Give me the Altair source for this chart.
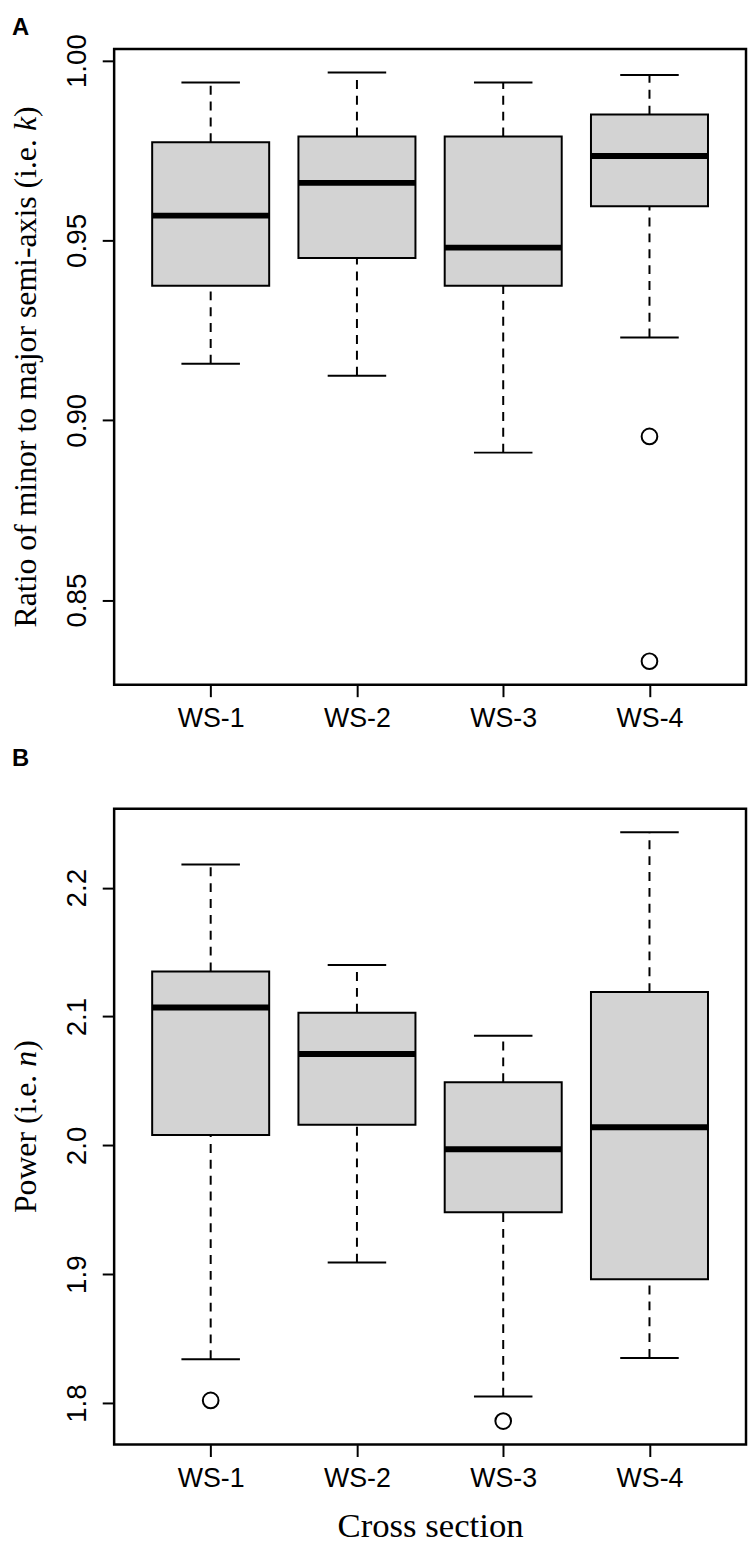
import altair as alt
import pandas as pd

sections = ["WS-1", "WS-2", "WS-3", "WS-4"]
positions = [1, 2, 3, 4]

# Panel A: ratio of minor to major semi-axis (k)
k_lo = [0.9157, 0.9124, 0.8910, 0.9230]
k_q1 = [0.9374, 0.9451, 0.9374, 0.9595]
k_med = [0.9569, 0.9660, 0.9480, 0.9735]
k_q3 = [0.9773, 0.9789, 0.9789, 0.9850]
k_hi = [0.9939, 0.9967, 0.9939, 0.9960]
k_out_pos = [4, 4]
k_out_val = [0.8955, 0.8330]
k_ticks = [0.85, 0.90, 0.95, 1.00]
k_title = ["Ratio of minor to major semi-axis (i.e. ", "k", ")"]

# Panel B: power (n)
n_lo = [1.834, 1.909, 1.805, 1.835]
n_q1 = [2.008, 2.016, 1.948, 1.896]
n_med = [2.107, 2.071, 1.997, 2.014]
n_q3 = [2.135, 2.103, 2.049, 2.119]
n_hi = [2.218, 2.140, 2.085, 2.243]
n_out_pos = [1, 3]
n_out_val = [1.802, 1.786]
n_ticks = [1.8, 1.9, 2.0, 2.1, 2.2]
n_title = ["Power (i.e. ", "n", ")"]

x_title = "Cross section"

SANS = "Liberation Sans"
SERIF = "Liberation Serif"
W, H = 637, 641
YT_SIZE = 32

# Times / Liberation Serif advance widths (em/1000) for the title glyphs
TW = {' ': 250, '(': 333, ')': 333, '.': 250, '-': 333, 'R': 667, 'P': 556, 'C': 667,
      'a': 444, 'c': 444, 'e': 444, 'f': 333, 'i': 278, 'j': 278, 'k': 500, 'm': 778,
      'n': 500, 'o': 500, 'r': 333, 's': 389, 't': 278, 'w': 722, 'x': 500}
TWI = {'k': 444, 'n': 500}


def twidth(s, size, italic=False):
    tab = TWI if italic else TW
    return sum(tab.get(c, TW.get(c, 500)) for c in s) * size / 1000.0


label_expr = "[" + ",".join("'%s'" % s for s in sections) + "][datum.value - 1]"


def panel(lo, q1, med, q3, hi, out_pos, out_val, ticks, fmt, title_parts, letter, xtitle, letter_y):
    df = pd.DataFrame(dict(section=sections, pos=positions, lo=lo, q1=q1, med=med, q3=q3, hi=hi))
    odf = pd.DataFrame(dict(pos=out_pos, val=out_val))
    allv = lo + hi + out_val
    span = max(allv) - min(allv)
    ydom = [min(allv) - 0.04 * span, max(allv) + 0.04 * span]

    xscale = alt.Scale(domain=[0.34, 4.66], nice=False, zero=False)
    yscale = alt.Scale(domain=ydom, nice=False, zero=False)
    xaxis = alt.Axis(values=positions, labelExpr=label_expr, title=xtitle if xtitle else None,
                     grid=False, domain=False, ticks=True, tickSize=12, tickWidth=2, tickColor="black",
                     labelFont=SANS, labelFontSize=27, labelColor="black", labelPadding=9,
                     titleFont=SERIF, titleFontSize=35, titleFontWeight="normal", titleColor="black",
                     titlePadding=18)
    yaxis = alt.Axis(values=ticks, format=fmt, title=None, grid=False, domain=False,
                     tickSize=12, tickWidth=2, tickColor="black",
                     labelFont=SANS, labelFontSize=28, labelColor="black", labelAngle=270,
                     labelAlign="center", labelBaseline="bottom", labelPadding=11)

    base = alt.Chart(df).transform_calculate(
        xl="datum.pos - 0.4", xr="datum.pos + 0.4",
        cl="datum.pos - 0.2", cr="datum.pos + 0.2")

    X = lambda f: alt.X(f, type="quantitative", scale=xscale, axis=xaxis)
    Y = lambda f: alt.Y(f, type="quantitative", scale=yscale, axis=yaxis)

    w_up = base.mark_rule(color="black", strokeWidth=2, strokeDash=[9, 7]).encode(
        x=X("pos"), y=Y("q3"), y2="hi")
    w_dn = base.mark_rule(color="black", strokeWidth=2, strokeDash=[9, 7]).encode(
        x=X("pos"), y=Y("lo"), y2="q1")
    cap_hi = base.mark_rule(color="black", strokeWidth=2).encode(x=X("cl"), x2="cr", y=Y("hi"))
    cap_lo = base.mark_rule(color="black", strokeWidth=2).encode(x=X("cl"), x2="cr", y=Y("lo"))
    box = base.mark_rect(fill="#d3d3d3", stroke="black", strokeWidth=2).encode(
        x=X("xl"), x2="xr", y=Y("q1"), y2="q3")
    median = base.mark_rule(color="black", strokeWidth=6).encode(x=X("xl"), x2="xr", y=Y("med"))
    outl = alt.Chart(odf).mark_point(shape="circle", filled=False, color="black", strokeWidth=2,
                                     size=250, opacity=1).encode(x=X("pos"), y=Y("val"))
    lab = alt.Chart(pd.DataFrame(dict(t=[letter]))).mark_text(
        font=SANS, fontSize=24, fontWeight="bold", align="left", baseline="top", color="black"
    ).encode(text="t:N", x=alt.value(-103), y=alt.value(letter_y))

    # y-axis title with italic symbol, drawn as rotated text pieces
    p1, p2, p3 = title_parts
    w1 = twidth(p1, YT_SIZE)
    w2 = twidth(p2, YT_SIZE, italic=True)
    w3 = twidth(p3, YT_SIZE)
    total = w1 + w2 + w3
    y0 = H / 2 + total / 2
    tx = -79
    tlayers = []
    for txt, ypos, style in [(p1, y0, "normal"), (p2, y0 - w1, "italic"), (p3, y0 - w1 - w2, "normal")]:
        tlayers.append(
            alt.Chart(pd.DataFrame(dict(t=[txt]))).mark_text(
                font=SERIF, fontSize=YT_SIZE, fontStyle=style, angle=270, align="left",
                baseline="alphabetic", color="black"
            ).encode(text="t:N", x=alt.value(tx), y=alt.value(ypos))
        )

    return alt.layer(w_up, w_dn, cap_hi, cap_lo, box, median, outl, lab, *tlayers).properties(
        width=W, height=H)


pa = panel(k_lo, k_q1, k_med, k_q3, k_hi, k_out_pos, k_out_val, k_ticks, ".2f",
           k_title, "A", None, -33)
pb = panel(n_lo, n_q1, n_med, n_q3, n_hi, n_out_pos, n_out_val, n_ticks, ".1f",
           n_title, "B", x_title, -62)

chart = alt.vconcat(pa, pb, spacing=12).properties(
    padding=0, background="white"
).configure_view(stroke="black", strokeWidth=2.5, fill="white")

chart.save("out.html", embed_options={"renderer": "svg", "actions": False})
